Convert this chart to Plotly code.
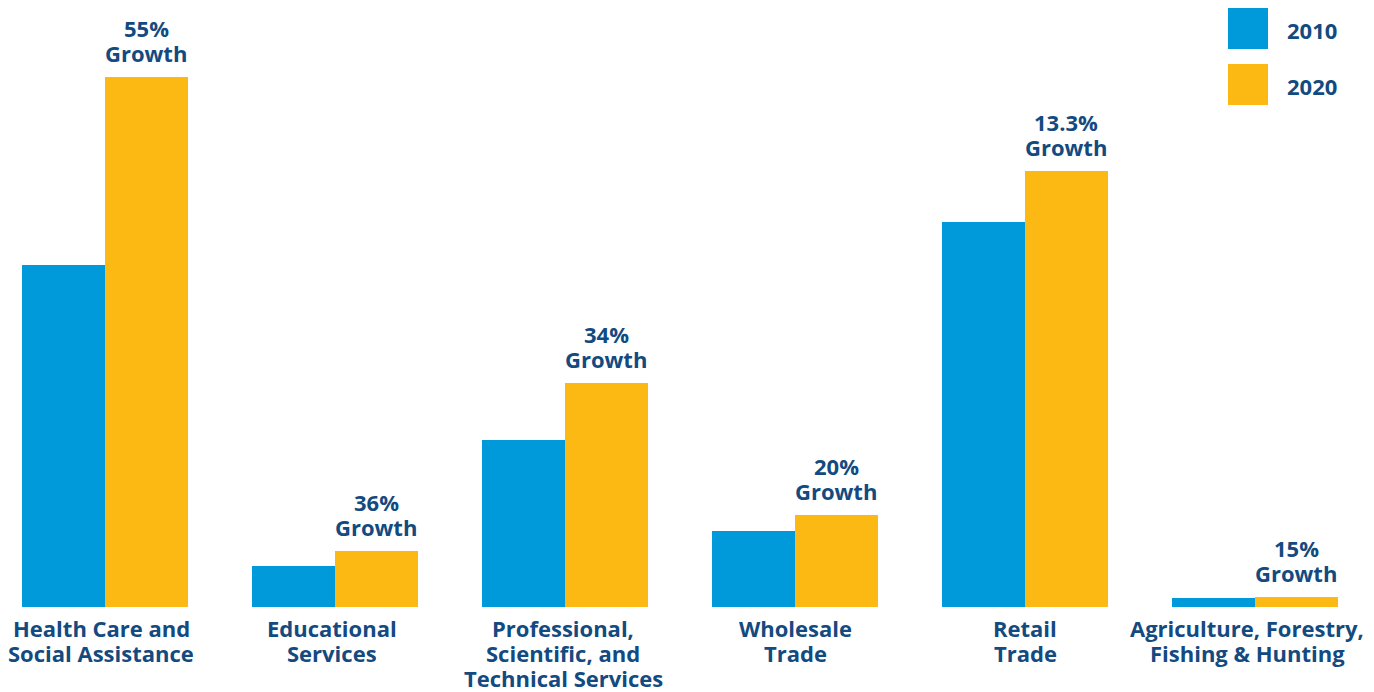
import plotly.graph_objects as go

categories = [
    "Health Care and<br>Social Assistance",
    "Educational<br>Services",
    "Professional,<br>Scientific, and<br>Technical Services",
    "Wholesale<br>Trade",
    "Retail<br>Trade",
    "Agriculture, Forestry,<br>Fishing & Hunting",
]
values_2010 = [342, 41, 167, 76, 385, 9]
values_2020 = [530, 56, 224, 92, 436, 10]
growth_labels = ["55%", "36%", "34%", "20%", "13.3%", "15%"]
series_names = ["2010", "2020"]

BLUE = "#009ADB"
YELLOW = "#FDB913"
NAVY = "#134A80"
FONT = "Open Sans"
FS = 22
LINE = 25

# page offset of the plot div inside the browser window
OFF = 8
W, H = 1374 - OFF, 692 - OFF
ML, MR, MT, MB = 0, 0, 0, 85
plot_h = H - MT - MB

x = list(range(len(categories)))

fig = go.Figure()
fig.add_trace(go.Bar(x=x, y=values_2010, name=series_names[0], marker_color=BLUE,
                     marker_line_width=0, showlegend=False))
fig.add_trace(go.Bar(x=x, y=values_2020, name=series_names[1], marker_color=YELLOW,
                     marker_line_width=0, showlegend=False))

# growth labels above the 2020 bars (two lines each, tight line spacing)
for i, (v, g) in enumerate(zip(values_2020, growth_labels)):
    for k, line in enumerate([g, "Growth"]):
        fig.add_annotation(x=i + 0.18, y=v, xref="x", yref="y",
                           text=f"<b>{line}</b>", showarrow=False,
                           height=LINE, valign="bottom", borderpad=0,
                           yanchor="bottom", yshift=8 + (1 - k) * LINE,
                           font=dict(family=FONT, size=FS, color=NAVY))

# category labels below the bars
label_xshift = [-4, -3, -2, 0, 0, -8]
for i, cat in enumerate(categories):
    for k, line in enumerate(cat.split("<br>")):
        fig.add_annotation(x=i, y=0, xref="x", yref="y",
                           text=f"<b>{line}</b>", showarrow=False,
                           height=LINE, valign="bottom", borderpad=0,
                           yanchor="top", yshift=-(9.5 + k * LINE),
                           xshift=label_xshift[i],
                           font=dict(family=FONT, size=FS, color=NAVY))

# legend drawn as squares + labels (screen pixel positions)
def py(pix):
    return (plot_h - (pix - OFF)) / plot_h

def pxp(pix):
    return (pix - OFF) / W

legend_items = [(series_names[0], BLUE, 8), (series_names[1], YELLOW, 64)]
for name, col, top in legend_items:
    fig.add_shape(type="rect", xref="paper", yref="paper",
                  x0=pxp(1228), x1=pxp(1268), y0=py(top + 41), y1=py(top),
                  fillcolor=col, line_width=0)
    fig.add_annotation(xref="paper", yref="paper", x=pxp(1312), y=py(top + 22),
                       text=f"<b>{name}</b>", showarrow=False,
                       xanchor="center", yanchor="middle",
                       font=dict(family=FONT, size=FS, color=NAVY))

px_per_unit = 230
x0 = -(105 - OFF) / px_per_unit
x1 = x0 + (W - ML - MR) / px_per_unit

fig.update_layout(
    width=W, height=H,
    margin=dict(l=ML, r=MR, t=MT, b=MB),
    paper_bgcolor="white", plot_bgcolor="white",
    barmode="group", bargap=64 / 230, bargroupgap=0,
    font=dict(family=FONT, color=NAVY),
    xaxis=dict(range=[x0, x1], tickvals=x, showticklabels=False,
               showgrid=False, zeroline=False, showline=False, ticks=""),
    yaxis=dict(range=[0, plot_h], visible=False, showgrid=False, zeroline=False),
)

fig.write_html("out.html")
